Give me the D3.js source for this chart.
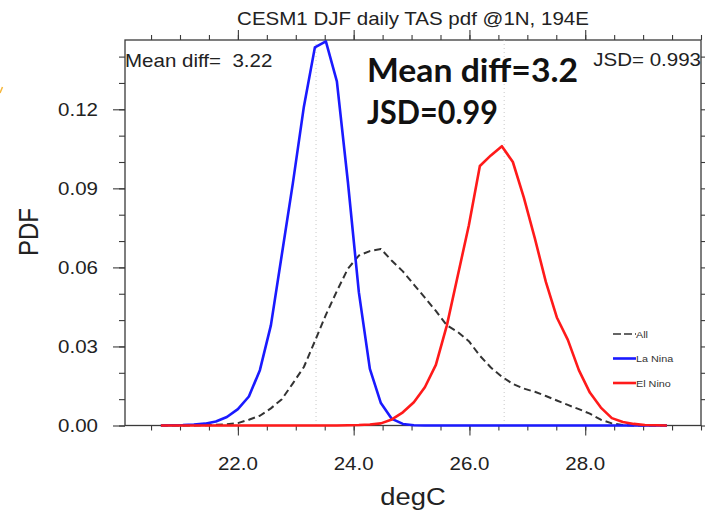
<!DOCTYPE html>
<html>
<head>
<meta charset="utf-8">
<script src="https://cdn.jsdelivr.net/npm/d3@7"></script>
<style>
  body { margin: 0; background: #fff; }
  svg { display: block; font-family: "Liberation Sans", Arial, sans-serif; }
</style>
</head>
<body>
<div id="chart"></div>
<script>
// bin centres (degC) shared by the three pdfs
const binCentres = [20.67, 20.86, 21.05, 21.24, 21.43, 21.62, 21.81, 22.00, 22.19, 22.38,
  22.57, 22.76, 22.95, 23.14, 23.33, 23.52, 23.71, 23.90, 24.09, 24.28,
  24.47, 24.66, 24.85, 25.04, 25.23, 25.42, 25.61, 25.80, 25.99, 26.18,
  26.37, 26.56, 26.75, 26.94, 27.13, 27.32, 27.51, 27.70, 27.89, 28.08,
  28.27, 28.46, 28.65, 28.84, 29.03, 29.22, 29.41];

const allPdf = [0, 0, 0, 0, 0.0001, 0.0003, 0.0005, 0.0009, 0.0022, 0.0037,
  0.0065, 0.0100, 0.0160, 0.0222, 0.0320, 0.0420, 0.0510, 0.0595, 0.0645, 0.0662,
  0.0670, 0.0625, 0.0585, 0.0535, 0.0485, 0.0435, 0.0380, 0.0355, 0.0320, 0.0265,
  0.0220, 0.0185, 0.0158, 0.0140, 0.0128, 0.0112, 0.0095, 0.0078, 0.0062, 0.0045,
  0.0022, 0.0008, 0.0002, 0, 0, 0, 0];

const laNinaPdf = [0, 0.0001, 0.0002, 0.0004, 0.0007, 0.0015, 0.0032, 0.0062, 0.0110, 0.0210,
  0.0380, 0.0650, 0.0920, 0.1210, 0.1435, 0.1458, 0.1306, 0.0925, 0.0505, 0.0215,
  0.0085, 0.0025, 0.0006, 0.0001, 0, 0, 0, 0, 0, 0,
  0, 0, 0, 0, 0, 0, 0, 0, 0, 0,
  0, 0, 0, 0, 0, 0, 0];

const elNinoPdf = [0, 0, 0, 0, 0, 0, 0, 0, 0, 0,
  0, 0, 0, 0, 0, 0, 0, 0.0001, 0.0002, 0.0004,
  0.0008, 0.0023, 0.0050, 0.0088, 0.0145, 0.0230, 0.0380, 0.0570, 0.0760, 0.0985,
  0.1025, 0.1060, 0.1000, 0.0865, 0.0710, 0.0545, 0.0410, 0.0325, 0.0210, 0.0125,
  0.0068, 0.0028, 0.0013, 0.0006, 0.0002, 0.0001, 0];

const groupMeans = [23.35, 26.6]; // La Nina, El Nino
const xMajorTicks = [22, 24, 26, 28];
const yMajorTicks = [0, 0.03, 0.06, 0.09, 0.12];
const seriesNames = ["All", "La Nina", "El Nino"];

function drawPdfChart() {
  const margin = { top: 40, right: 4, bottom: 86.5, left: 125 },
    width = 705 - margin.left - margin.right,
    height = 512 - margin.top - margin.bottom;
  const sx = 1.14; // the original figure is stretched horizontally

  const svgRoot = d3
    .select("#chart")
    .append("svg")
    .attr("width", 705)
    .attr("height", 512);

  const svg = svgRoot
    .append("g")
    .attr("transform", `translate(${margin.left}, ${margin.top})`);

  const x = d3.scaleLinear().domain([20.05, 30.0]).range([0, width]);
  const y = d3.scaleLinear().domain([0, 0.1463]).range([height, 0]);

  const xMinor = d3.range(20.5, 30.01, 0.5);
  const yMinor = d3.range(0, 0.145, 0.01);

  // frame
  svg
    .append("rect")
    .attr("width", width)
    .attr("height", height)
    .attr("fill", "none")
    .attr("stroke", "#3a3a3a")
    .attr("stroke-width", 1.3);

  // tick marks on all four sides (outward, like NCL)
  const tickStyle = (g) => {
    g.select(".domain").remove();
    g.selectAll("line").attr("stroke", "#3a3a3a").attr("stroke-width", 1.1);
  };
  svg.append("g").attr("transform", `translate(0, ${height})`)
    .call(d3.axisBottom(x).tickValues(xMinor).tickSize(5).tickFormat("")).call(tickStyle);
  svg.append("g").attr("transform", `translate(0, ${height})`)
    .call(d3.axisBottom(x).tickValues(xMajorTicks).tickSize(10).tickFormat("")).call(tickStyle);
  svg.append("g")
    .call(d3.axisTop(x).tickValues(xMinor).tickSize(5).tickFormat("")).call(tickStyle);
  svg.append("g")
    .call(d3.axisTop(x).tickValues(xMajorTicks).tickSize(10).tickFormat("")).call(tickStyle);
  svg.append("g")
    .call(d3.axisLeft(y).tickValues(yMinor).tickSize(6).tickFormat("")).call(tickStyle);
  svg.append("g")
    .call(d3.axisLeft(y).tickValues(yMajorTicks).tickSize(12).tickFormat("")).call(tickStyle);
  svg.append("g").attr("transform", `translate(${width}, 0)`)
    .call(d3.axisRight(y).tickValues(yMinor).tickSize(5).tickFormat("")).call(tickStyle);

  // tick labels
  svg.append("g")
    .selectAll("text")
    .data(xMajorTicks)
    .join("text")
    .attr("transform", (d) => `translate(${x(d)}, ${height + 44}) scale(${sx},1)`)
    .attr("text-anchor", "middle")
    .style("font-size", "18px")
    .style("fill", "#222")
    .text(d3.format(".1f"));

  svg.append("g")
    .selectAll("text")
    .data(yMajorTicks)
    .join("text")
    .attr("transform", (d) => `translate(-27, ${y(d)}) scale(${sx},1)`)
    .attr("text-anchor", "end")
    .attr("dy", "0.36em")
    .style("font-size", "18px")
    .style("fill", "#222")
    .text(d3.format(".2f"));

  // group means, light dotted verticals
  svg.append("g")
    .selectAll("line")
    .data(groupMeans)
    .join("line")
    .attr("x1", (d) => x(d))
    .attr("x2", (d) => x(d))
    .attr("y1", 0)
    .attr("y2", height)
    .attr("stroke", "#c8c8c8")
    .attr("stroke-width", 1)
    .attr("stroke-dasharray", "1,3");

  // curves
  const line = d3.line()
    .x((d) => x(d[0]))
    .y((d) => y(d[1]));
  const curves = [
    { name: seriesNames[0], values: allPdf, color: "#333", width: 2, dash: "7,4" },
    { name: seriesNames[1], values: laNinaPdf, color: "#1a1aff", width: 2.6, dash: null },
    { name: seriesNames[2], values: elNinoPdf, color: "#ff1a1a", width: 2.6, dash: null },
  ];
  svg.append("g")
    .selectAll("path")
    .data([curves[0], curves[1], curves[2]])
    .join("path")
    .attr("d", (c) => line(binCentres.map((b, i) => [b, c.values[i]])))
    .attr("fill", "none")
    .attr("stroke", (c) => c.color)
    .attr("stroke-width", (c) => c.width)
    .attr("stroke-dasharray", (c) => c.dash)
    .attr("stroke-linejoin", "round");

  // legend
  const legend = svg.append("g").attr("transform", `translate(${488}, ${294})`);
  curves.forEach(function (c, i) {
    const row = legend.append("g").attr("transform", `translate(0, ${i * 24.5})`);
    row.append("line")
      .attr("x1", 0).attr("x2", 23)
      .attr("stroke", c.color)
      .attr("stroke-width", c.dash ? 1.6 : 2.6)
      .attr("stroke-dasharray", c.dash ? "8,3" : null);
    row.append("text")
      .attr("transform", `translate(23, 3.5) scale(${sx},1)`)
      .style("font-size", "9.5px")
      .style("fill", "#333")
      .text(c.name);
  });

  // NCL annotations in the corners
  svg.append("text")
    .attr("transform", `translate(0, 27) scale(${sx},1)`)
    .style("font-size", "18px")
    .style("fill", "#222")
    .style("white-space", "pre")
    .text("Mean diff=  3.22");
  svg.append("text")
    .attr("transform", `translate(${width}, 26) scale(${sx},1)`)
    .attr("text-anchor", "end")
    .style("font-size", "18px")
    .style("fill", "#222")
    .text("JSD= 0.993");

  // title and axis titles
  svgRoot.append("text")
    .attr("transform", `translate(${margin.left + width / 2}, 25) scale(${sx},1)`)
    .attr("text-anchor", "middle")
    .style("font-size", "18px")
    .style("fill", "#222")
    .text("CESM1 DJF daily TAS pdf @1N, 194E");
  svgRoot.append("text")
    .attr("transform", `translate(${margin.left + width / 2}, 505) scale(${sx},1)`)
    .attr("text-anchor", "middle")
    .style("font-size", "24px")
    .style("fill", "#222")
    .text("degC");
  svgRoot.append("text")
    .attr("transform", `translate(38, 232) scale(${sx},1) rotate(-90)`)
    .attr("text-anchor", "middle")
    .style("font-size", "24px")
    .style("fill", "#222")
    .text("PDF");

  // bold overlay pasted on top of the figure
  const overlay = svgRoot.append("g")
    .style("font-family", "Lato, 'Open Sans', sans-serif")
    .style("font-weight", 700)
    .style("fill", "#111");
  overlay.append("text")
    .attr("x", 367).attr("y", 82)
    .attr("textLength", 211).attr("lengthAdjust", "spacingAndGlyphs")
    .style("font-size", "33px")
    .text("Mean diff=3.2");
  overlay.append("text")
    .attr("x", 367).attr("y", 124)
    .attr("textLength", 131).attr("lengthAdjust", "spacingAndGlyphs")
    .style("font-size", "33px")
    .text("JSD=0.99");

  // stray orange mark at the left edge of the screenshot
  svgRoot.append("path")
    .attr("d", "M0,93 L2.5,87")
    .attr("stroke", "#f6b73c")
    .attr("stroke-width", 1.5)
    .attr("fill", "none");
}

drawPdfChart();
</script>
</body>
</html>
